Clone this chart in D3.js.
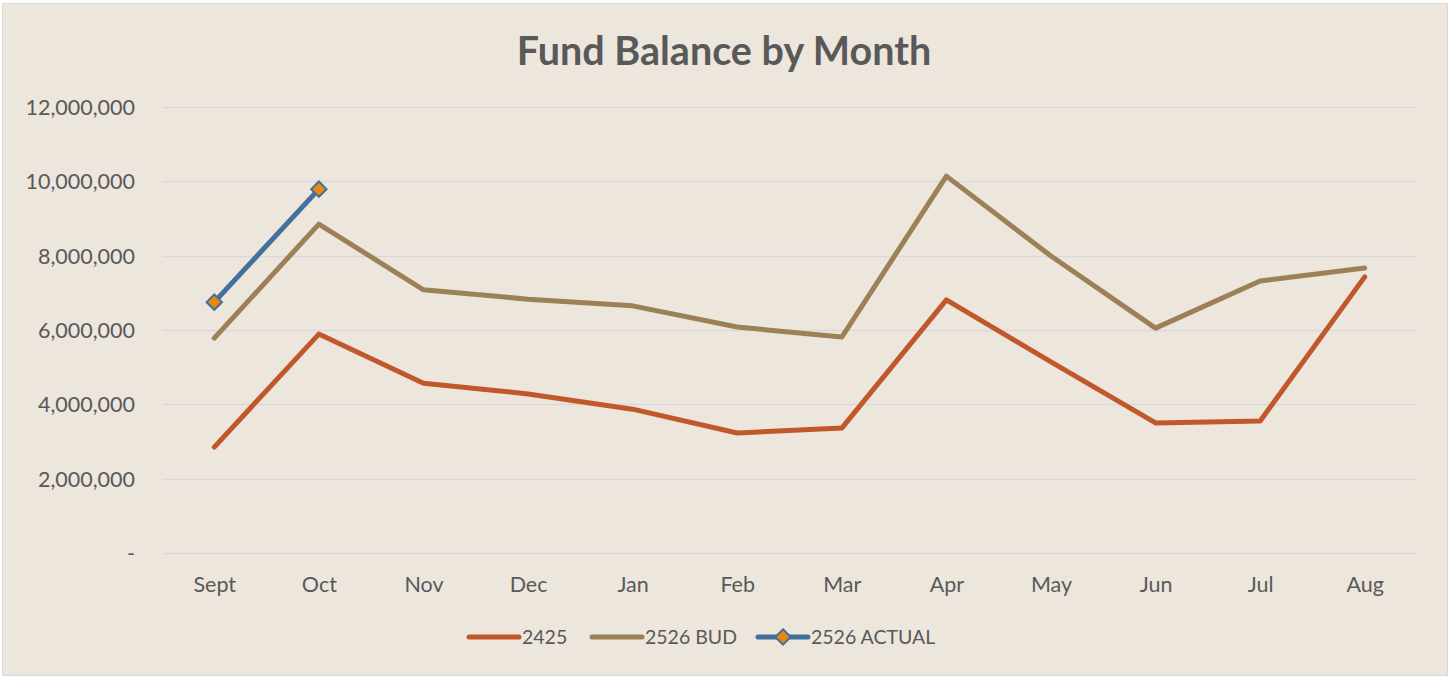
<!DOCTYPE html>
<html>
<head>
<meta charset="utf-8">
<script src="https://cdn.jsdelivr.net/npm/d3@7"></script>
<style>
  body { margin: 0; background: #fff; }
  svg text { font-family: Lato, "Open Sans", sans-serif; fill: #595959; }
</style>
</head>
<body>
<script>
// data
var months = ["Sept", "Oct", "Nov", "Dec", "Jan", "Feb", "Mar", "Apr", "May", "Jun", "Jul", "Aug"];
var fy2425 = [2850000, 5890000, 4570000, 4280000, 3870000, 3230000, 3360000, 6810000, 5140000, 3500000, 3550000, 7430000];
var bud2526 = [5780000, 8850000, 7080000, 6830000, 6650000, 6080000, 5810000, 10140000, 7990000, 6050000, 7320000, 7670000];
var actual2526 = [6750000, 9790000];
var yTicks = [0, 2000000, 4000000, 6000000, 8000000, 10000000, 12000000];

var w = 1453, h = 677;
var plotLeft = 162, plotRight = 1417, plotTop = 107, plotBottom = 553;

var svg = d3.select("body").append("svg")
	.attr("width", w)
	.attr("height", h);

// chart background + border
svg.append("rect")
	.attr("x", 2.5).attr("y", 3.5)
	.attr("width", 1445).attr("height", 672)
	.attr("fill", "#ece6dd")
	.attr("stroke", "#d9d9d9")
	.attr("stroke-width", 1);

var x = d3.scalePoint()
	.domain(months)
	.range([plotLeft, plotRight])
	.padding(0.5);

var y = d3.scaleLinear()
	.domain([0, 12000000])
	.range([plotBottom, plotTop]);

// gridlines
svg.append("g").selectAll("line")
	.data(yTicks)
	.enter().append("line")
	.attr("x1", plotLeft).attr("x2", plotRight)
	.attr("y1", function(d) { return Math.round(y(d)) + 0.5; })
	.attr("y2", function(d) { return Math.round(y(d)) + 0.5; })
	.attr("stroke", "#d9d9d9")
	.attr("stroke-width", 1.5);

// y axis labels
var fmt = d3.format(",");
var yAxis = d3.axisLeft(y).tickValues(yTicks).tickSize(0).tickPadding(0)
	.tickFormat(function(d) { return d === 0 ? "-" : fmt(d); });
var gy = svg.append("g")
	.attr("transform", "translate(135,0)")
	.call(yAxis);
gy.select(".domain").remove();
gy.selectAll("text")
	.attr("font-size", "21.5px")
	.attr("dy", "0.35em")
	.style("font-family", "Lato, sans-serif")
	.attr("fill", "#595959");

// x axis labels
var xAxis = d3.axisBottom(x).tickSize(0).tickPadding(0);
var gx = svg.append("g")
	.attr("transform", "translate(0,577)")
	.call(xAxis);
gx.select(".domain").remove();
gx.selectAll("text")
	.attr("font-size", "21.5px")
	.attr("dy", "0.71em")
	.style("font-family", "Lato, sans-serif")
	.attr("fill", "#595959");

// title
svg.append("text")
	.attr("x", 724)
	.attr("y", 65)
	.attr("text-anchor", "middle")
	.attr("font-size", "39.5px")
	.attr("font-weight", "bold")
	.text("Fund Balance by Month");

var line = d3.line()
	.x(function(d, i) { return x(months[i]); })
	.y(function(d) { return y(d); });

function drawSeries(data, color) {
	svg.append("path")
		.datum(data)
		.attr("d", line)
		.attr("fill", "none")
		.attr("stroke", color)
		.attr("stroke-width", 5)
		.attr("stroke-linecap", "round")
		.attr("stroke-linejoin", "round");
}

drawSeries(fy2425, "#c0582b");
drawSeries(bud2526, "#9c8157");
drawSeries(actual2526, "#41719c");

var diamond = d3.symbol().type(d3.symbolDiamond2).size(150);

svg.append("g").selectAll("path")
	.data(actual2526)
	.enter().append("path")
	.attr("d", diamond)
	.attr("transform", function(d, i) { return "translate(" + x(months[i]) + "," + y(d) + ")"; })
	.attr("fill", "#e8890e")
	.attr("stroke", "#41719c")
	.attr("stroke-width", 2);

// legend
var legendItems = [
	{ name: "2425", color: "#c0582b", x: 469, marker: false },
	{ name: "2526 BUD", color: "#9c8157", x: 592, marker: false },
	{ name: "2526 ACTUAL", color: "#41719c", x: 758, marker: true }
];
var ly = 637;
var lg = svg.append("g");
legendItems.forEach(function(d) {
	lg.append("line")
		.attr("x1", d.x).attr("x2", d.x + 50)
		.attr("y1", ly).attr("y2", ly)
		.attr("stroke", d.color)
		.attr("stroke-width", 5)
		.attr("stroke-linecap", "round");
	if (d.marker) {
		lg.append("path")
			.attr("d", diamond)
			.attr("transform", "translate(" + (d.x + 25) + "," + ly + ")")
			.attr("fill", "#e8890e")
			.attr("stroke", "#41719c")
			.attr("stroke-width", 2);
	}
	lg.append("text")
		.attr("x", d.x + 53)
		.attr("y", ly)
		.attr("dy", "0.35em")
		.attr("font-size", "19.5px")
		.text(d.name);
});
</script>
</body>
</html>
